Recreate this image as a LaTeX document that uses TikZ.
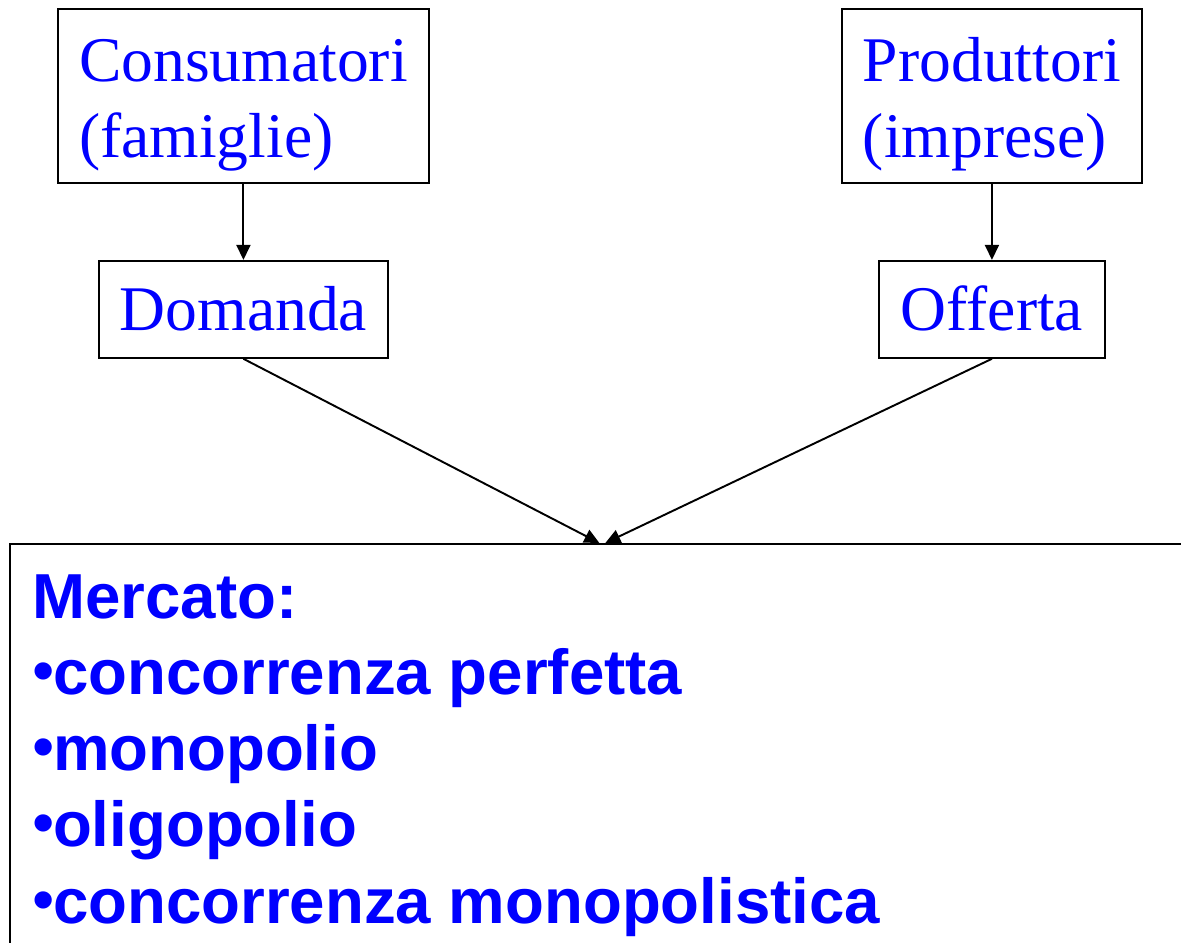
\documentclass[tikz,border=0pt]{standalone}
\usepackage{fontspec}
\setmainfont{Liberation Serif}
\newfontfamily\arialfont{Liberation Sans}
\usetikzlibrary{positioning, arrows.meta}
\definecolor{pptblue}{RGB}{0,0,255}
\tikzset{
    agent/.style={
        draw,
        line width=1.1pt,
        text=pptblue,
        align=left,
        font=\fontsize{36.2pt}{43.7pt}\selectfont,
        minimum height=3.48cm,
        text height=2.48cm,
        text depth=0cm,
        inner sep=0pt,
    },
    flow/.style={
        draw,
        line width=1.1pt,
        text=pptblue,
        font=\fontsize{36.2pt}{43.7pt}\selectfont,
        minimum height=1.94cm,
        text height=0.9cm,
        text depth=0.04cm,
        inner sep=0pt,
    },
    link/.style={
        line width=1.1pt,
        -{Triangle[length=0.3cm,width=0.28cm]},
    },
}
\newcommand{\mktbullet}{{\mdseries\raisebox{1pt}{•}}\kern-0.03cm}

\begin{document}
\begin{tikzpicture}[x=0.02cm, y=-0.02cm, node distance=1.52cm]
        \useasboundingbox (0,0) rectangle (1181,943);
        \clip (0,0) rectangle (1181,943);
        \node[agent, minimum width=7.42cm, anchor=north west] (cons) at (57,8) {Consumatori\\(famiglie)};
        \node[agent, minimum width=6cm, anchor=north west] (prod) at (841,8) {Produttori\\(imprese)};
        \node[flow, minimum width=5.78cm, below=of cons] (dom) {Domanda};
        \node[flow, minimum width=4.52cm, below=of prod] (off) {Offerta};
        \node[draw, line width=1.1pt, minimum width=23.7cm, minimum height=8.5cm, anchor=north west] (merc) at (9,543) {};
        \node[text=pptblue, align=left, inner sep=0pt, anchor=base west,
              font=\arialfont\bfseries\fontsize{36.2pt}{43.4pt}\selectfont] (voci) at (32,923)
              {Mercato:\\
              \mktbullet concorrenza perfetta\\
              \mktbullet monopolio\\
              \mktbullet oligopolio\\
              \mktbullet concorrenza monopolistica};
        \draw[link] (cons.south) -- (dom.north);
        \draw[link] (prod.south) -- (off.north);
        \draw[link] (dom.south) -- ([xshift=-0.06cm]merc.north);
        \draw[link] (off.south) -- ([xshift=0.06cm]merc.north);
\end{tikzpicture}
\end{document}
